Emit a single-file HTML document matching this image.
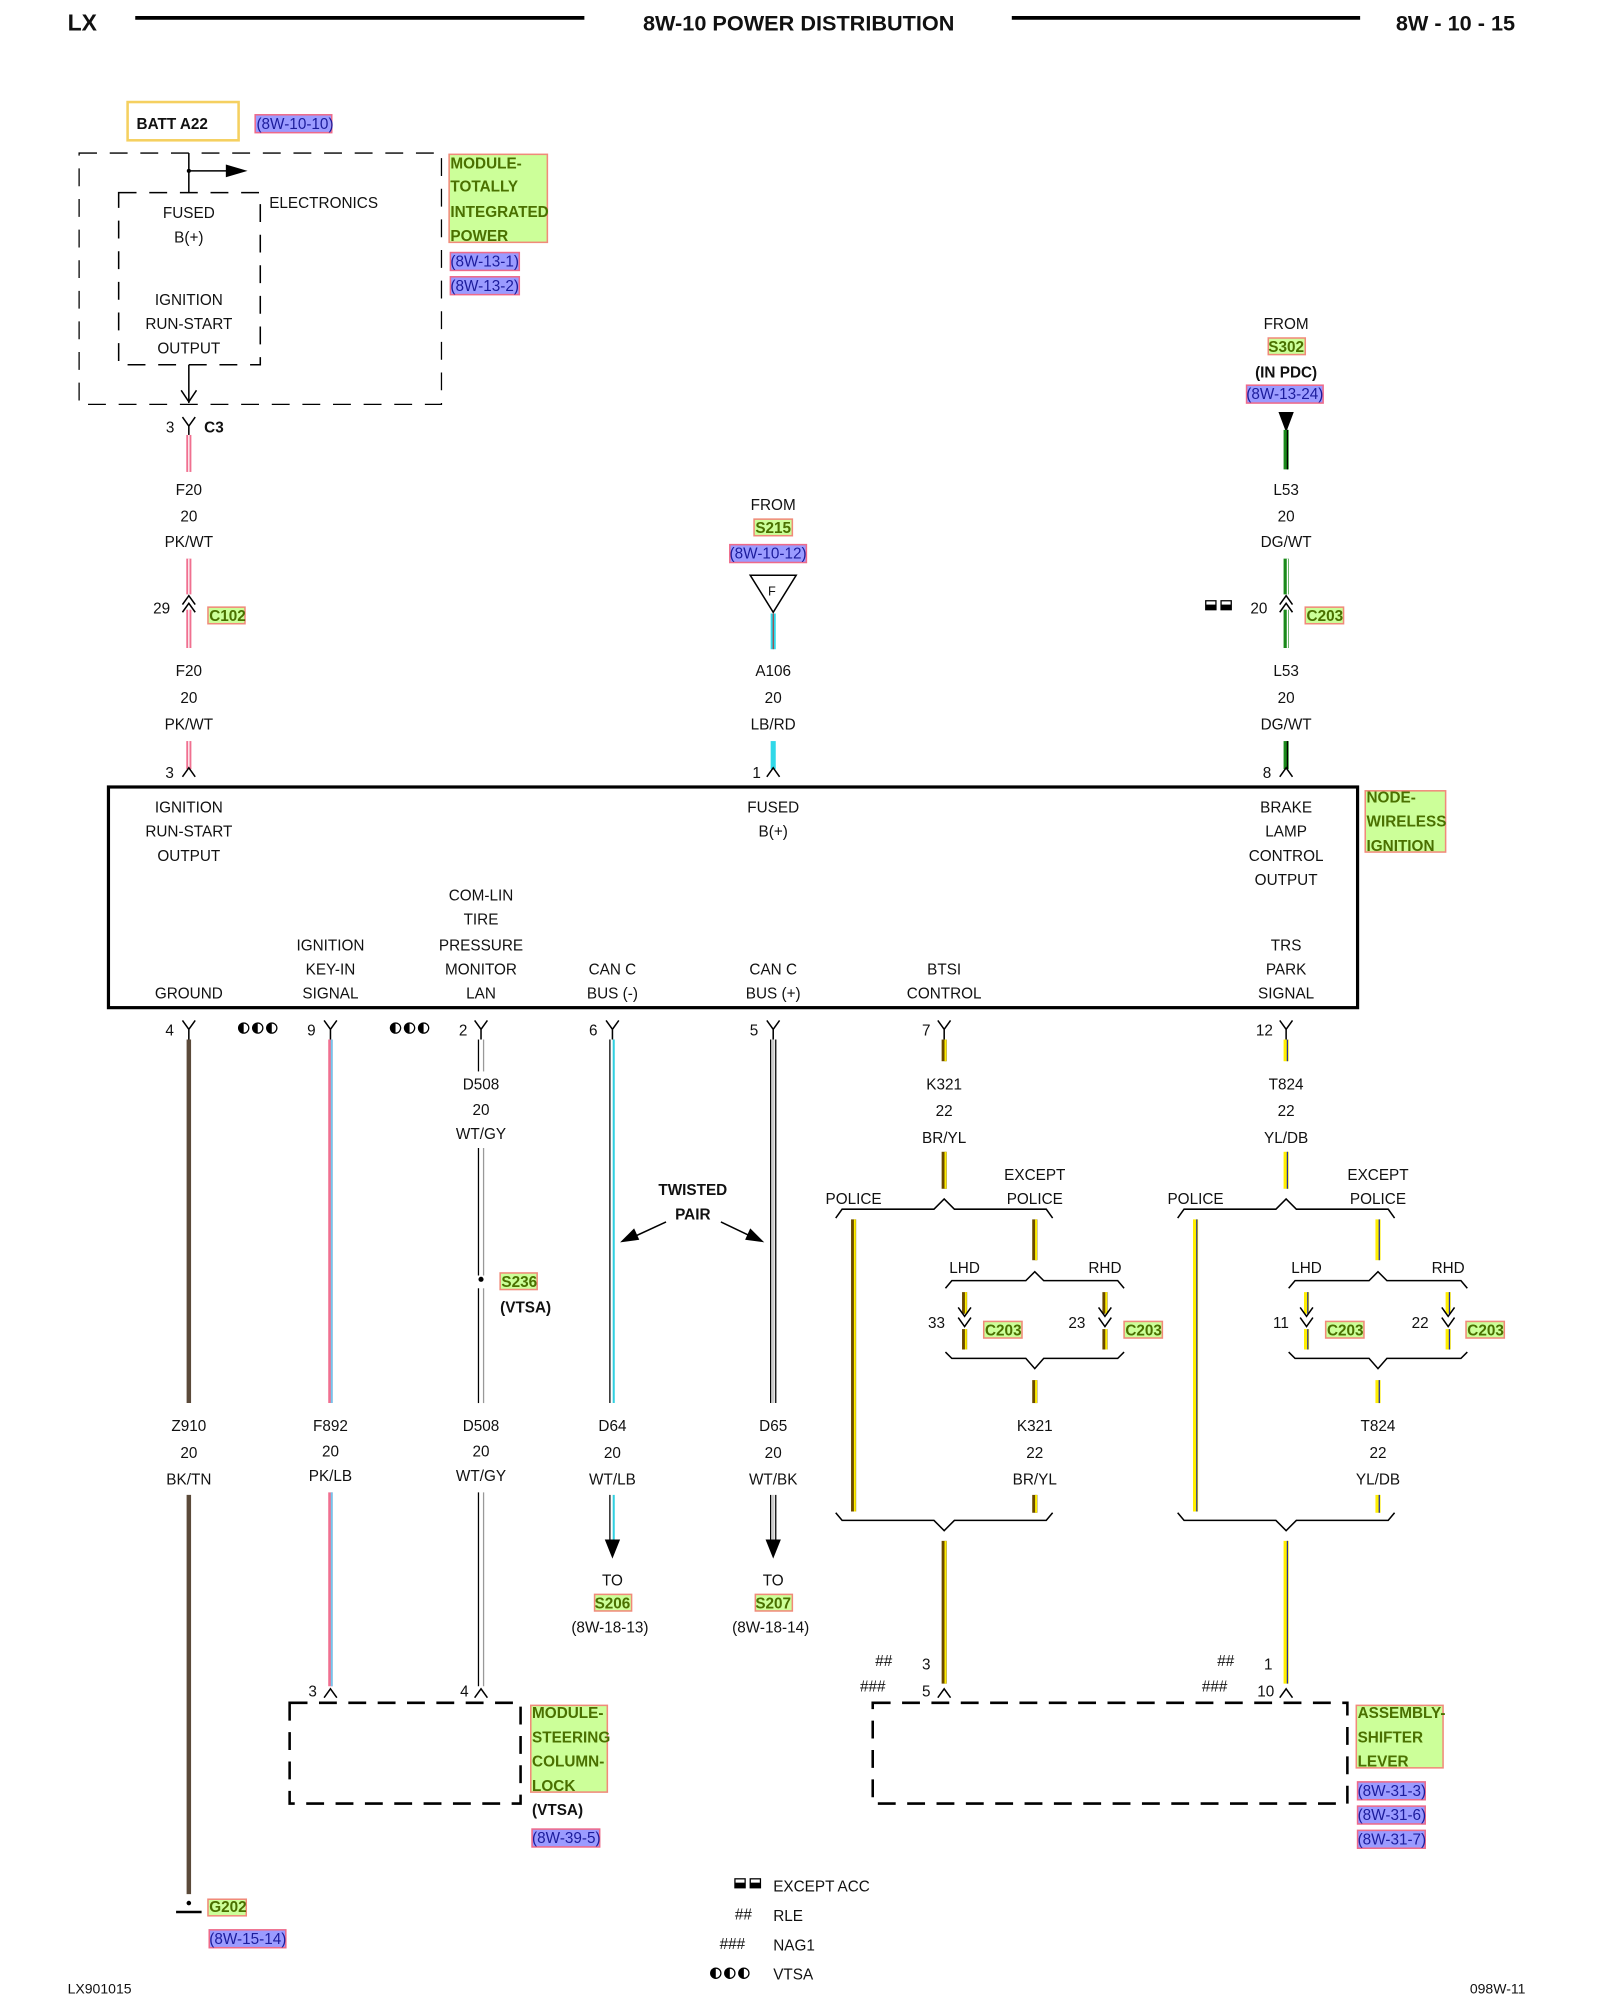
<!DOCTYPE html>
<html><head><meta charset="utf-8"><style>
html,body{margin:0;padding:0;background:#fff;}
svg{display:block;}
text{font-family:"Liberation Sans",Arial,sans-serif;font-size:12px;fill:#111;}
.c{text-anchor:middle;}
.b{font-weight:bold;}
.g{fill:#4a7000;font-weight:bold;}
.bl{fill:#1c1c9c;}
.hg{fill:#ccff99;stroke:#f08a7a;stroke-width:1.2;}
.hb{fill:#9b9bff;stroke:#ee6a8a;stroke-width:1.2;}
.ln{stroke:#000;stroke-width:1.2;fill:none;}
</style></head><body>
<svg width="1600" height="2000" viewBox="0 0 1254 1568" preserveAspectRatio="none" xmlns="http://www.w3.org/2000/svg">
<defs>
<g id="Y"><path d="M-5,-7 L0,0 L5,-7 M0,0 L0,8" stroke="#000" stroke-width="1.2" fill="none"/></g>
<g id="A"><path d="M-5,5 L0,-2 L5,5" stroke="#000" stroke-width="1.2" fill="none"/></g>
<g id="H"><circle cx="0" cy="0" r="4" fill="#fff" stroke="#000" stroke-width="1"/><path d="M0,-4 A4,4 0 0 0 0,4 Z"/></g>
<g id="H3"><use href="#H" x="0"/><use href="#H" x="11"/><use href="#H" x="22"/></g>
</defs>
<!-- header -->
<text x="53" y="24" class="b" style="font-size:18px">LX</text>
<line x1="106" y1="14" x2="458" y2="14" stroke="#000" stroke-width="3"/>
<text x="626" y="24" class="c b" style="font-size:17px">8W-10 POWER DISTRIBUTION</text>
<line x1="793" y1="14" x2="1066" y2="14" stroke="#000" stroke-width="3"/>
<text x="1094" y="24" class="b" style="font-size:17px">8W - 10 - 15</text>

<!-- TIPM -->
<rect x="100" y="80" width="87" height="30" fill="none" stroke="#f5d060" stroke-width="2"/>
<text x="107" y="101" class="b">BATT A22</text>
<rect x="200" y="90" width="60" height="14" class="hb"/><text x="201" y="101" class="bl">(8W-10-10)</text>
<rect x="62" y="120" width="284" height="197" fill="none" stroke="#000" stroke-width="1" stroke-dasharray="14,10"/>
<rect x="93" y="151" width="111" height="135" fill="none" stroke="#000" stroke-width="1.2" stroke-dasharray="14,10"/>
<line x1="148" y1="120" x2="148" y2="151" class="ln"/>
<circle cx="148" cy="134" r="1.6"/>
<line x1="148" y1="134" x2="180" y2="134" class="ln"/>
<path d="M177,129 L194,134 L177,139Z"/>
<text x="148" y="171" class="c">FUSED</text><text x="148" y="190" class="c">B(+)</text>
<text x="148" y="239" class="c">IGNITION</text><text x="148" y="258" class="c">RUN-START</text><text x="148" y="277" class="c">OUTPUT</text>
<text x="211" y="163">ELECTRONICS</text>
<line x1="148" y1="286" x2="148" y2="316" class="ln"/><path d="M142,306 L148,315 L154,306" class="ln"/>
<rect x="352" y="121" width="77" height="69" class="hg"/>
<text x="353" y="132" class="g">MODULE-</text><text x="353" y="150" class="g">TOTALLY</text><text x="353" y="170" class="g">INTEGRATED</text><text x="353" y="189" class="g">POWER</text>
<rect x="353" y="198" width="54" height="14" class="hb"/><text x="353" y="209" class="bl">(8W-13-1)</text>
<rect x="353" y="217" width="54" height="14" class="hb"/><text x="353" y="228" class="bl">(8W-13-2)</text>

<!-- left F20 -->
<use href="#Y" x="148" y="334"/>
<text x="130" y="339">3</text><text x="160" y="339" class="b">C3</text>
<line x1="148" y1="341" x2="148" y2="370" stroke="#f07090" stroke-width="4"/><line x1="148" y1="341" x2="148" y2="370" stroke="#fff" stroke-width="1"/>
<text x="148" y="388" class="c">F20</text><text x="148" y="409" class="c">20</text><text x="148" y="429" class="c">PK/WT</text>
<line x1="148" y1="438" x2="148" y2="508" stroke="#f07090" stroke-width="4"/><line x1="148" y1="438" x2="148" y2="508" stroke="#fff" stroke-width="1"/>
<rect x="143" y="466" width="10" height="12" fill="#fff"/>
<path d="M143,474 L148,467 L153,474 M143,480 L148,473 L153,480" class="ln"/>
<text x="120" y="481">29</text>
<rect x="163" y="476" width="29" height="13" class="hg"/><text x="164" y="487" class="g">C102</text>
<text x="148" y="530" class="c">F20</text><text x="148" y="551" class="c">20</text><text x="148" y="572" class="c">PK/WT</text>
<line x1="148" y1="581" x2="148" y2="603" stroke="#f07090" stroke-width="4"/><line x1="148" y1="581" x2="148" y2="603" stroke="#fff" stroke-width="1"/>
<use href="#A" x="148" y="604"/><text x="133" y="610" class="c">3</text>

<!-- middle A106 -->
<text x="606" y="400" class="c">FROM</text>
<rect x="591" y="407" width="30" height="13" class="hg"/><text x="606" y="418" class="c g">S215</text>
<rect x="572" y="427" width="60" height="14" class="hb"/><text x="602" y="438" class="c bl">(8W-10-12)</text>
<path d="M588,451 L624,451 L606,480Z" fill="#fff" stroke="#000" stroke-width="1.2"/><text x="605" y="467" class="c" style="font-size:10px">F</text>
<line x1="606" y1="481" x2="606" y2="509" stroke="#30d8e8" stroke-width="4"/><line x1="606" y1="481" x2="606" y2="509" stroke="#c02020" stroke-width="0.8"/>
<text x="606" y="530" class="c">A106</text><text x="606" y="551" class="c">20</text><text x="606" y="572" class="c">LB/RD</text>
<line x1="606" y1="581" x2="606" y2="603" stroke="#30d8e8" stroke-width="4"/>
<use href="#A" x="606" y="604"/><text x="593" y="610" class="c">1</text>

<!-- right L53 -->
<text x="1008" y="258" class="c">FROM</text>
<rect x="994" y="265" width="29" height="13" class="hg"/><text x="1008" y="276" class="c g">S302</text>
<text x="1008" y="296" class="c b">(IN PDC)</text>
<rect x="977" y="302" width="60" height="14" class="hb"/><text x="1007" y="313" class="c bl">(8W-13-24)</text>
<path d="M1002,323 L1014,323 L1008,339Z"/>
<line x1="1008" y1="337" x2="1008" y2="368" stroke="#1a8a1a" stroke-width="4"/><line x1="1009" y1="337" x2="1009" y2="368" stroke="#000" stroke-width="1"/>
<text x="1008" y="388" class="c">L53</text><text x="1008" y="409" class="c">20</text><text x="1008" y="429" class="c">DG/WT</text>
<line x1="1008" y1="438" x2="1008" y2="508" stroke="#1a8a1a" stroke-width="4"/><line x1="1009" y1="438" x2="1009" y2="508" stroke="#fff" stroke-width="1"/>
<rect x="1003" y="466" width="10" height="12" fill="#fff"/>
<path d="M1003,474 L1008,467 L1013,474 M1003,480 L1008,473 L1013,480" class="ln"/>
<text x="980" y="481">20</text>
<rect x="945" y="471" width="8" height="7" fill="none" stroke="#000"/><rect x="945" y="474" width="8" height="4"/>
<rect x="957" y="471" width="8" height="7" fill="none" stroke="#000"/><rect x="957" y="474" width="8" height="4"/>
<rect x="1023" y="476" width="30" height="13" class="hg"/><text x="1024" y="487" class="g">C203</text>
<text x="1008" y="530" class="c">L53</text><text x="1008" y="551" class="c">20</text><text x="1008" y="572" class="c">DG/WT</text>
<line x1="1008" y1="581" x2="1008" y2="603" stroke="#1a8a1a" stroke-width="4"/><line x1="1009" y1="581" x2="1009" y2="603" stroke="#000" stroke-width="1"/>
<use href="#A" x="1008" y="604"/><text x="993" y="610" class="c">8</text>

<!-- main box -->
<rect x="85" y="617" width="979" height="173" fill="none" stroke="#000" stroke-width="2.5"/>
<rect x="1070" y="620" width="63" height="48" class="hg"/>
<text x="1071" y="629" class="g">NODE-</text><text x="1071" y="648" class="g">WIRELESS</text><text x="1071" y="667" class="g">IGNITION</text>
<text x="148" y="637" class="c">IGNITION</text><text x="148" y="656" class="c">RUN-START</text><text x="148" y="675" class="c">OUTPUT</text>
<text x="606" y="637" class="c">FUSED</text><text x="606" y="656" class="c">B(+)</text>
<text x="1008" y="637" class="c">BRAKE</text><text x="1008" y="656" class="c">LAMP</text><text x="1008" y="675" class="c">CONTROL</text><text x="1008" y="694" class="c">OUTPUT</text>
<text x="377" y="706" class="c">COM-LIN</text><text x="377" y="725" class="c">TIRE</text><text x="377" y="745" class="c">PRESSURE</text><text x="377" y="764" class="c">MONITOR</text><text x="377" y="783" class="c">LAN</text>
<text x="259" y="745" class="c">IGNITION</text><text x="259" y="764" class="c">KEY-IN</text><text x="259" y="783" class="c">SIGNAL</text>
<text x="148" y="783" class="c">GROUND</text>
<text x="480" y="764" class="c">CAN C</text><text x="480" y="783" class="c">BUS (-)</text>
<text x="606" y="764" class="c">CAN C</text><text x="606" y="783" class="c">BUS (+)</text>
<text x="740" y="764" class="c">BTSI</text><text x="740" y="783" class="c">CONTROL</text>
<text x="1008" y="745" class="c">TRS</text><text x="1008" y="764" class="c">PARK</text><text x="1008" y="783" class="c">SIGNAL</text>

<!-- lower pins -->
<use href="#Y" x="148" y="807"/><text x="133" y="812" class="c">4</text>
<use href="#Y" x="259" y="807"/><text x="244" y="812" class="c">9</text>
<use href="#Y" x="377" y="807"/><text x="363" y="812" class="c">2</text>
<use href="#Y" x="480" y="807"/><text x="465" y="812" class="c">6</text>
<use href="#Y" x="606" y="807"/><text x="591" y="812" class="c">5</text>
<use href="#Y" x="740" y="807"/><text x="726" y="812" class="c">7</text>
<use href="#Y" x="1008" y="807"/><text x="991" y="812" class="c">12</text>
<use href="#H3" x="191" y="806"/>
<use href="#H3" x="310" y="806"/>

<!-- BK/TN -->
<line x1="148" y1="815" x2="148" y2="1100" stroke="#5b4a3a" stroke-width="3.5"/>
<text x="148" y="1122" class="c">Z910</text><text x="148" y="1143" class="c">20</text><text x="148" y="1164" class="c">BK/TN</text>
<line x1="148" y1="1172" x2="148" y2="1485" stroke="#5b4a3a" stroke-width="3.5"/>
<circle cx="148" cy="1492" r="1.8"/><line x1="138" y1="1499" x2="158" y2="1499" stroke="#000" stroke-width="2"/>
<rect x="163" y="1489" width="30" height="13" class="hg"/><text x="164" y="1499" class="g">G202</text>
<rect x="164" y="1513" width="60" height="14" class="hb"/><text x="164" y="1524" class="bl">(8W-15-14)</text>

<!-- PK/LB -->
<line x1="259" y1="815" x2="259" y2="1100" stroke="#f07090" stroke-width="3.5"/><line x1="260" y1="815" x2="260" y2="1100" stroke="#70c8f0" stroke-width="1.5"/>
<text x="259" y="1122" class="c">F892</text><text x="259" y="1142" class="c">20</text><text x="259" y="1161" class="c">PK/LB</text>
<line x1="259" y1="1170" x2="259" y2="1322" stroke="#f07090" stroke-width="3.5"/><line x1="260" y1="1170" x2="260" y2="1322" stroke="#70c8f0" stroke-width="1.5"/>
<use href="#A" x="259" y="1326"/><text x="245" y="1330" class="c">3</text>

<!-- WT/GY -->
<g stroke-width="1">
<line x1="375" y1="815" x2="375" y2="840" stroke="#000"/><line x1="379" y1="815" x2="379" y2="840" stroke="#999"/>
<line x1="375" y1="900" x2="375" y2="1000" stroke="#000"/><line x1="379" y1="900" x2="379" y2="1000" stroke="#999"/>
<line x1="375" y1="1010" x2="375" y2="1100" stroke="#000"/><line x1="379" y1="1010" x2="379" y2="1100" stroke="#999"/>
<line x1="375" y1="1170" x2="375" y2="1322" stroke="#000"/><line x1="379" y1="1170" x2="379" y2="1322" stroke="#999"/>
</g>
<text x="377" y="854" class="c">D508</text><text x="377" y="874" class="c">20</text><text x="377" y="893" class="c">WT/GY</text>
<circle cx="377" cy="1003" r="2"/>
<rect x="392" y="998" width="29" height="13" class="hg"/><text x="393" y="1009" class="g">S236</text>
<text x="392" y="1029" class="b">(VTSA)</text>
<text x="377" y="1122" class="c">D508</text><text x="377" y="1142" class="c">20</text><text x="377" y="1161" class="c">WT/GY</text>
<use href="#A" x="377" y="1326"/><text x="364" y="1330" class="c">4</text>

<!-- WT/LB, WT/BK -->
<g stroke-width="1">
<line x1="478" y1="815" x2="478" y2="1100" stroke="#000"/><line x1="481" y1="815" x2="481" y2="1100" stroke="#30d0e0" stroke-width="1.6"/>
<line x1="478" y1="1172" x2="478" y2="1210" stroke="#000"/><line x1="481" y1="1172" x2="481" y2="1210" stroke="#30d0e0" stroke-width="1.6"/>
<line x1="604" y1="815" x2="604" y2="1100" stroke="#000"/><line x1="608" y1="815" x2="608" y2="1100" stroke="#000"/><line x1="606" y1="815" x2="606" y2="1100" stroke="#ccc" stroke-width="2"/>
<line x1="604" y1="1172" x2="604" y2="1210" stroke="#000"/><line x1="608" y1="1172" x2="608" y2="1210" stroke="#000"/><line x1="606" y1="1172" x2="606" y2="1210" stroke="#ccc" stroke-width="2"/>
</g>
<path d="M474,1207 L486,1207 L480,1222Z"/><path d="M600,1207 L612,1207 L606,1222Z"/>
<text x="480" y="1122" class="c">D64</text><text x="480" y="1143" class="c">20</text><text x="480" y="1164" class="c">WT/LB</text>
<text x="606" y="1122" class="c">D65</text><text x="606" y="1143" class="c">20</text><text x="606" y="1164" class="c">WT/BK</text>
<text x="480" y="1243" class="c">TO</text>
<rect x="466" y="1250" width="29" height="13" class="hg"/><text x="480" y="1261" class="c g">S206</text>
<text x="478" y="1280" class="c">(8W-18-13)</text>
<text x="606" y="1243" class="c">TO</text>
<rect x="592" y="1250" width="29" height="13" class="hg"/><text x="606" y="1261" class="c g">S207</text>
<text x="604" y="1280" class="c">(8W-18-14)</text>
<text x="543" y="937" class="c b">TWISTED</text><text x="543" y="956" class="c b">PAIR</text>
<line x1="522" y1="958" x2="496" y2="970" class="ln"/><path d="M486,974 L497,963 L501,972Z"/>
<line x1="565" y1="958" x2="590" y2="970" class="ln"/><path d="M599,974 L588,963 L584,972Z"/>

<!-- BR/YL branch -->
<g>
<line x1="740" y1="815" x2="740" y2="832" stroke="#6b4a00" stroke-width="4"/><line x1="741" y1="815" x2="741" y2="832" stroke="#ffee00" stroke-width="1.5"/>
<line x1="740" y1="903" x2="740" y2="932" stroke="#6b4a00" stroke-width="4"/><line x1="741" y1="903" x2="741" y2="932" stroke="#ffee00" stroke-width="1.5"/>
<path d="M655,955 L660,948 L732,948 L740,940 L748,948 L820,948 L825,955" class="ln"/>
<line x1="669" y1="956" x2="669" y2="1185" stroke="#6b4a00" stroke-width="4"/><line x1="670" y1="956" x2="670" y2="1185" stroke="#ffee00" stroke-width="1.5"/>
<line x1="811" y1="956" x2="811" y2="988" stroke="#6b4a00" stroke-width="4"/><line x1="812" y1="956" x2="812" y2="988" stroke="#ffee00" stroke-width="1.5"/>
<path d="M741,1010 L746,1004 L804,1004 L811,997 L818,1004 L876,1004 L881,1010" class="ln"/>
<line x1="756" y1="1013" x2="756" y2="1058" stroke="#6b4a00" stroke-width="4"/><line x1="757" y1="1013" x2="757" y2="1058" stroke="#ffee00" stroke-width="1.5"/>
<line x1="866" y1="1013" x2="866" y2="1058" stroke="#6b4a00" stroke-width="4"/><line x1="867" y1="1013" x2="867" y2="1058" stroke="#ffee00" stroke-width="1.5"/>
<rect x="750" y="1030" width="12" height="12" fill="#fff"/><rect x="860" y="1030" width="12" height="12" fill="#fff"/>
<path d="M751,1025 L756,1032 L761,1025 M751,1033 L756,1040 L761,1033" class="ln"/>
<path d="M861,1025 L866,1032 L871,1025 M861,1033 L866,1040 L871,1033" class="ln"/>
<path d="M741,1060 L746,1065 L804,1065 L811,1073 L818,1065 L876,1065 L881,1060" class="ln"/>
<line x1="811" y1="1082" x2="811" y2="1100" stroke="#6b4a00" stroke-width="4"/><line x1="812" y1="1082" x2="812" y2="1100" stroke="#ffee00" stroke-width="1.5"/>
<line x1="811" y1="1172" x2="811" y2="1186" stroke="#6b4a00" stroke-width="4"/><line x1="812" y1="1172" x2="812" y2="1186" stroke="#ffee00" stroke-width="1.5"/>
<path d="M655,1186 L660,1192 L732,1192 L740,1200 L748,1192 L820,1192 L825,1186" class="ln"/>
<line x1="740" y1="1208" x2="740" y2="1320" stroke="#6b4a00" stroke-width="4"/><line x1="741" y1="1208" x2="741" y2="1320" stroke="#ffee00" stroke-width="1.5"/>
</g>
<text x="740" y="854" class="c">K321</text><text x="740" y="875" class="c">22</text><text x="740" y="896" class="c">BR/YL</text>
<text x="669" y="944" class="c">POLICE</text><text x="811" y="925" class="c">EXCEPT</text><text x="811" y="944" class="c">POLICE</text>
<text x="756" y="998" class="c">LHD</text><text x="866" y="998" class="c">RHD</text>
<text x="734" y="1041" class="c">33</text><text x="844" y="1041" class="c">23</text>
<rect x="771" y="1036" width="30" height="13" class="hg"/><text x="772" y="1047" class="g">C203</text>
<rect x="881" y="1036" width="30" height="13" class="hg"/><text x="882" y="1047" class="g">C203</text>
<text x="811" y="1122" class="c">K321</text><text x="811" y="1143" class="c">22</text><text x="811" y="1164" class="c">BR/YL</text>
<text x="686" y="1306">##</text><text x="726" y="1309" class="c">3</text>
<text x="674" y="1326">###</text><text x="726" y="1330" class="c">5</text>
<use href="#A" x="740" y="1326"/>

<!-- YL/DB branch -->
<g>
<line x1="1008" y1="815" x2="1008" y2="832" stroke="#ffee00" stroke-width="4"/><line x1="1009" y1="815" x2="1009" y2="832" stroke="#2030a0" stroke-width="1"/>
<line x1="1008" y1="903" x2="1008" y2="932" stroke="#ffee00" stroke-width="4"/><line x1="1009" y1="903" x2="1009" y2="932" stroke="#2030a0" stroke-width="1"/>
<path d="M923,955 L928,948 L1000,948 L1008,940 L1016,948 L1088,948 L1093,955" class="ln"/>
<line x1="937" y1="956" x2="937" y2="1185" stroke="#ffee00" stroke-width="4"/><line x1="938" y1="956" x2="938" y2="1185" stroke="#2030a0" stroke-width="1"/>
<line x1="1080" y1="956" x2="1080" y2="988" stroke="#ffee00" stroke-width="4"/><line x1="1081" y1="956" x2="1081" y2="988" stroke="#2030a0" stroke-width="1"/>
<path d="M1010,1010 L1015,1004 L1073,1004 L1080,997 L1087,1004 L1145,1004 L1150,1010" class="ln"/>
<line x1="1024" y1="1013" x2="1024" y2="1058" stroke="#ffee00" stroke-width="4"/><line x1="1025" y1="1013" x2="1025" y2="1058" stroke="#2030a0" stroke-width="1"/>
<line x1="1135" y1="1013" x2="1135" y2="1058" stroke="#ffee00" stroke-width="4"/><line x1="1136" y1="1013" x2="1136" y2="1058" stroke="#2030a0" stroke-width="1"/>
<rect x="1018" y="1030" width="12" height="12" fill="#fff"/><rect x="1129" y="1030" width="12" height="12" fill="#fff"/>
<path d="M1019,1025 L1024,1032 L1029,1025 M1019,1033 L1024,1040 L1029,1033" class="ln"/>
<path d="M1130,1025 L1135,1032 L1140,1025 M1130,1033 L1135,1040 L1140,1033" class="ln"/>
<path d="M1010,1060 L1015,1065 L1073,1065 L1080,1073 L1087,1065 L1145,1065 L1150,1060" class="ln"/>
<line x1="1080" y1="1082" x2="1080" y2="1100" stroke="#ffee00" stroke-width="4"/><line x1="1081" y1="1082" x2="1081" y2="1100" stroke="#2030a0" stroke-width="1"/>
<line x1="1080" y1="1172" x2="1080" y2="1186" stroke="#ffee00" stroke-width="4"/><line x1="1081" y1="1172" x2="1081" y2="1186" stroke="#2030a0" stroke-width="1"/>
<path d="M923,1186 L928,1192 L1000,1192 L1008,1200 L1016,1192 L1088,1192 L1093,1186" class="ln"/>
<line x1="1008" y1="1208" x2="1008" y2="1320" stroke="#ffee00" stroke-width="4"/><line x1="1009" y1="1208" x2="1009" y2="1320" stroke="#2030a0" stroke-width="1"/>
</g>
<text x="1008" y="854" class="c">T824</text><text x="1008" y="875" class="c">22</text><text x="1008" y="896" class="c">YL/DB</text>
<text x="937" y="944" class="c">POLICE</text><text x="1080" y="925" class="c">EXCEPT</text><text x="1080" y="944" class="c">POLICE</text>
<text x="1024" y="998" class="c">LHD</text><text x="1135" y="998" class="c">RHD</text>
<text x="1004" y="1041" class="c">11</text><text x="1113" y="1041" class="c">22</text>
<rect x="1039" y="1036" width="30" height="13" class="hg"/><text x="1040" y="1047" class="g">C203</text>
<rect x="1149" y="1036" width="30" height="13" class="hg"/><text x="1150" y="1047" class="g">C203</text>
<text x="1080" y="1122" class="c">T824</text><text x="1080" y="1143" class="c">22</text><text x="1080" y="1164" class="c">YL/DB</text>
<text x="954" y="1306">##</text><text x="994" y="1309" class="c">1</text>
<text x="942" y="1326">###</text><text x="992" y="1330" class="c">10</text>
<use href="#A" x="1008" y="1326"/>

<!-- lower modules -->
<rect x="227" y="1335" width="181" height="79" fill="none" stroke="#000" stroke-width="2" stroke-dasharray="14,9"/>
<rect x="416" y="1337" width="60" height="68" class="hg"/>
<text x="417" y="1347" class="g">MODULE-</text><text x="417" y="1366" class="g">STEERING</text><text x="417" y="1385" class="g">COLUMN-</text><text x="417" y="1404" class="g">LOCK</text>
<text x="417" y="1423" class="b">(VTSA)</text>
<rect x="417" y="1434" width="53" height="14" class="hb"/><text x="417" y="1445" class="bl">(8W-39-5)</text>
<rect x="684" y="1335" width="372" height="79" fill="none" stroke="#000" stroke-width="2" stroke-dasharray="14,9"/>
<rect x="1063" y="1337" width="68" height="49" class="hg"/>
<text x="1064" y="1347" class="g">ASSEMBLY-</text><text x="1064" y="1366" class="g">SHIFTER</text><text x="1064" y="1385" class="g">LEVER</text>
<rect x="1064" y="1397" width="53" height="14" class="hb"/><text x="1064" y="1408" class="bl">(8W-31-3)</text>
<rect x="1064" y="1416" width="53" height="14" class="hb"/><text x="1064" y="1427" class="bl">(8W-31-6)</text>
<rect x="1064" y="1435" width="53" height="14" class="hb"/><text x="1064" y="1446" class="bl">(8W-31-7)</text>

<!-- legend -->
<rect x="576" y="1473" width="8" height="7" fill="none" stroke="#000"/><rect x="576" y="1476" width="8" height="4"/>
<rect x="588" y="1473" width="8" height="7" fill="none" stroke="#000"/><rect x="588" y="1476" width="8" height="4"/>
<text x="606" y="1483">EXCEPT ACC</text>
<text x="576" y="1505">##</text><text x="606" y="1506">RLE</text>
<text x="564" y="1528">###</text><text x="606" y="1529">NAG1</text>
<use href="#H3" x="561" y="1547"/><text x="606" y="1552">VTSA</text>

<text x="53" y="1563" style="font-size:11px">LX901015</text>
<text x="1152" y="1563" style="font-size:11px">098W-11</text>
</svg>
</body></html>
